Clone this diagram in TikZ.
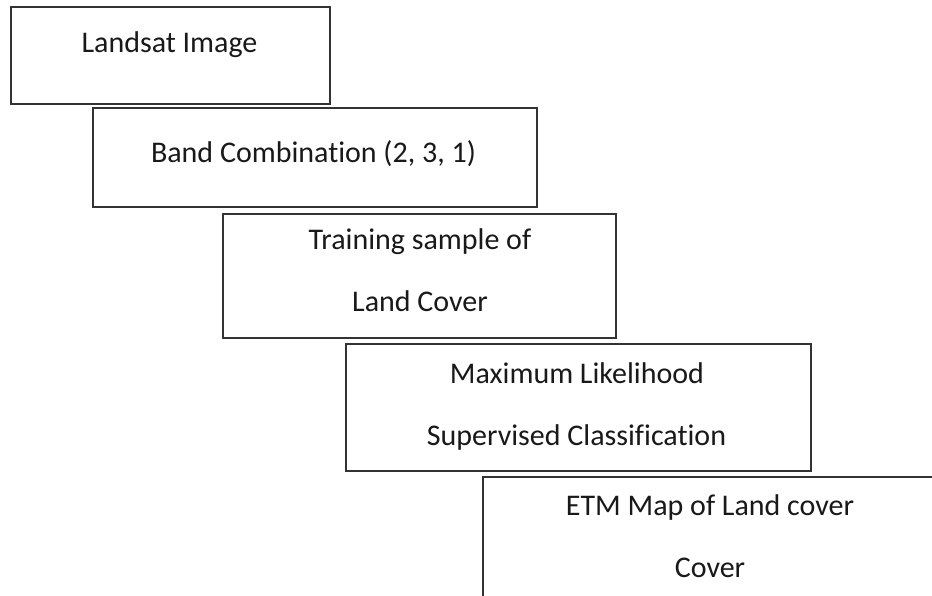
\documentclass[tikz,border=0pt]{standalone}
\usepackage{fontspec}
\setmainfont{Carlito}[Ligatures=NoCommon]
\begin{document}
\begin{tikzpicture}[x=1pt,y=-1pt,
  stagebox/.style={draw=black!80,line width=1.7pt,rectangle,inner sep=0pt},
  stagetext/.style={anchor=base,inner sep=0pt,text=black!90,font=\fontsize{30}{30}\selectfont}]
\useasboundingbox (0,0) rectangle (932,596);
\clip (0,0) rectangle (932,596);
\fill[white] (0,0) rectangle (932,596);
% boxes
\node[stagebox,minimum width=319pt,minimum height=97pt] (b1) at (170.5,55.5) {};
\node[stagebox,minimum width=444pt,minimum height=99pt] (b2) at (315,157.5) {};
\node[stagebox,minimum width=393pt,minimum height=124pt] (b3) at (419.5,276) {};
\node[stagebox,minimum width=465pt,minimum height=127pt] (b4) at (578.5,407.5) {};
\node[stagebox,minimum width=454pt,minimum height=160pt] (b5) at (710,557) {};
% texts
\node[stagetext] (t1) at (169.5,53) {Landsat Image};
\node[stagetext] (t2) at (313.5,163) {Band Combination (2, 3, 1)};
\node[stagetext] (t3a) at (420,250) {Training sample of};
\node[stagetext] (t3b) at (420,311) {Land Cover};
\node[stagetext] (t4a) at (577,383) {Maximum Likelihood};
\node[stagetext] (t4b) at (576.5,445) {Supervised Classification};
\node[stagetext] (t5a) at (710,515) {ETM Map of Land cover};
\node[stagetext] (t5b) at (710,577) {Cover};
\end{tikzpicture}
\end{document}
